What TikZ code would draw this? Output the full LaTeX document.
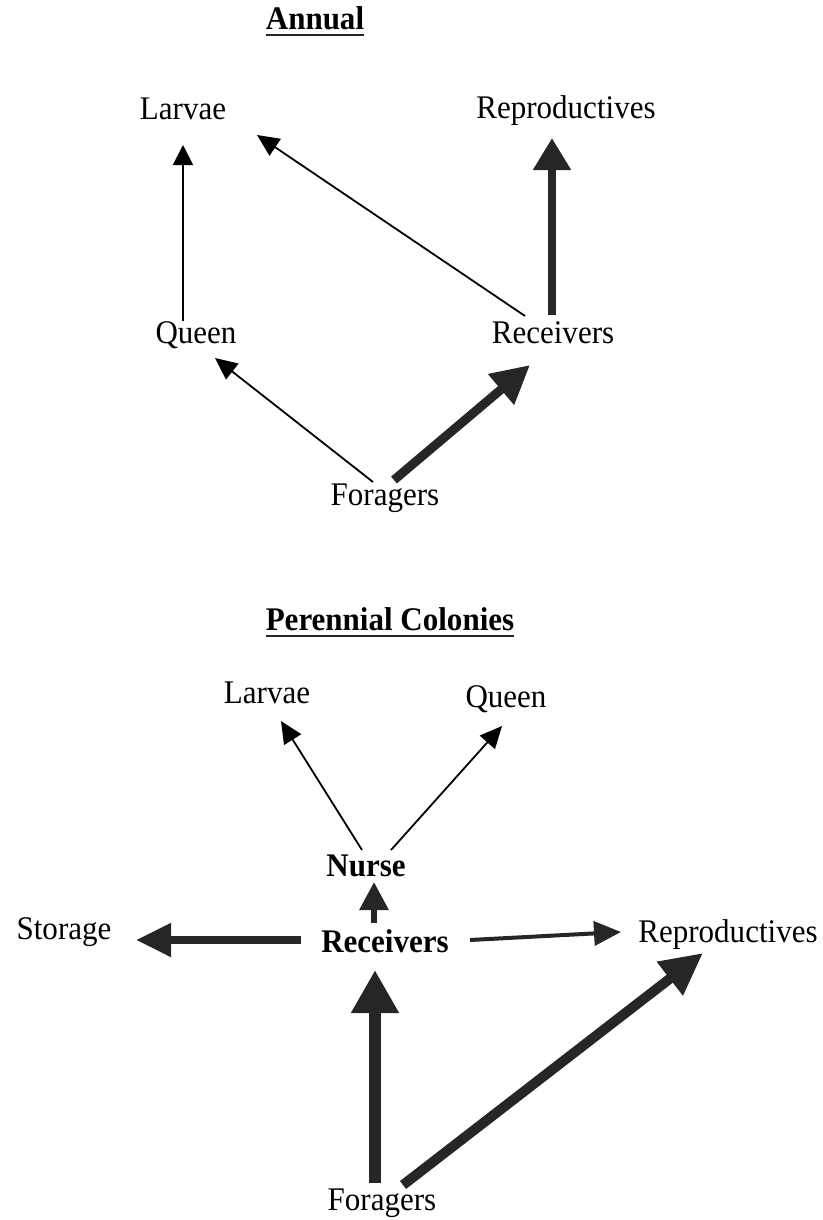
\documentclass[tikz,border=0pt]{standalone}
\usepackage{fontspec}
\setmainfont[FakeStretch=0.94]{Liberation Serif}
\usetikzlibrary{arrows.meta}
\begin{document}
\begin{tikzpicture}[x=1pt,y=-1pt,
  lbl/.style={anchor=base,inner sep=0pt,font=\fontsize{33}{38}\selectfont},
  blbl/.style={lbl,font=\fontsize{33}{38}\selectfont\bfseries},
  thin/.style={draw=black,line width=1.8pt,-{Triangle[length=#1,width=20pt]}},
  thick/.style={draw=black!85,line width=#1},
  uline/.style={line width=2pt,black!85}]
\useasboundingbox (0,0) rectangle (822,1220);
% ---------- Annual ----------
\node[blbl] (annual) at (315,30) {Annual};
\draw[uline] ([yshift=-5pt]annual.base west) -- ([yshift=-5pt]annual.base east);
\node[lbl] (larvaeA) at (183,120) {Larvae};
\node[lbl] (reprA) at (566,118) {Reproductives};
\node[lbl] (queenA) at (196,343) {Queen};
\node[lbl] (recvA) at (553,343) {Receivers};
\node[lbl] (forA) at (385,505) {Foragers};
\coordinate (qA1) at (183,321); \coordinate (lA1) at (183,145);
\coordinate (rA1) at (525,316); \coordinate (lA2) at (257,135);
\coordinate (rA2) at (552,315); \coordinate (pA1) at (552,138);
\coordinate (fA1) at (373,482); \coordinate (qA2) at (215,358);
\coordinate (fA2) at (394,480); \coordinate (rA3) at (530,365);
\draw[thin=20pt] (qA1) -- (lA1);
\draw[thin=22pt] (rA1) -- (lA2);
\draw[thick=8pt,-{Triangle[length=32pt,width=36pt]}] (rA2) -- (pA1);
\draw[thin=22pt] (fA1) -- (qA2);
\draw[thick=9pt,-{Triangle[length=38pt,width=38pt]}] (fA2) -- (rA3);
% ---------- Perennial ----------
\node[blbl] (peren) at (390,630) {Perennial Colonies};
\draw[uline] ([yshift=-6pt]peren.base west) -- ([yshift=-6pt]peren.base east);
\node[lbl] (larvaeP) at (267,703) {Larvae};
\node[lbl] (queenP) at (506,707) {Queen};
\node[blbl] (nurse) at (366,876) {Nurse};
\node[blbl] (recvP) at (385,952) {Receivers};
\node[lbl] (storage) at (64,939) {Storage};
\node[lbl] (reprP) at (728,942) {Reproductives};
\node[lbl] (forP) at (382,1210) {Foragers};
\coordinate (nP1) at (362,850); \coordinate (lP1) at (281,721);
\coordinate (nP2) at (391,850); \coordinate (qP1) at (502,726);
\coordinate (rP1) at (374,923); \coordinate (nP3) at (374,882);
\coordinate (rP2) at (301,940); \coordinate (sP1) at (136,940);
\coordinate (rP3) at (470,940); \coordinate (pP1) at (621,932);
\coordinate (fP1) at (375,1183); \coordinate (rP4) at (375,970);
\coordinate (fP2) at (403,1185); \coordinate (pP2) at (703,953);
\draw[thin=22pt] (nP1) -- (lP1);
\draw[thin=22pt] (nP2) -- (qP1);
\draw[thick=6pt,-{Triangle[length=28pt,width=28pt]}] (rP1) -- (nP3);
\draw[thick=8pt,-{Triangle[length=35pt,width=32pt]}] (rP2) -- (sP1);
\draw[thick=4pt,-{Triangle[length=27pt,width=24pt]}] (rP3) -- (pP1);
\draw[thick=12pt,-{Triangle[length=43pt,width=45pt]}] (fP1) -- (rP4);
\draw[thick=10pt,-{Triangle[length=42pt,width=40pt]}] (fP2) -- (pP2);
\end{tikzpicture}
\end{document}
